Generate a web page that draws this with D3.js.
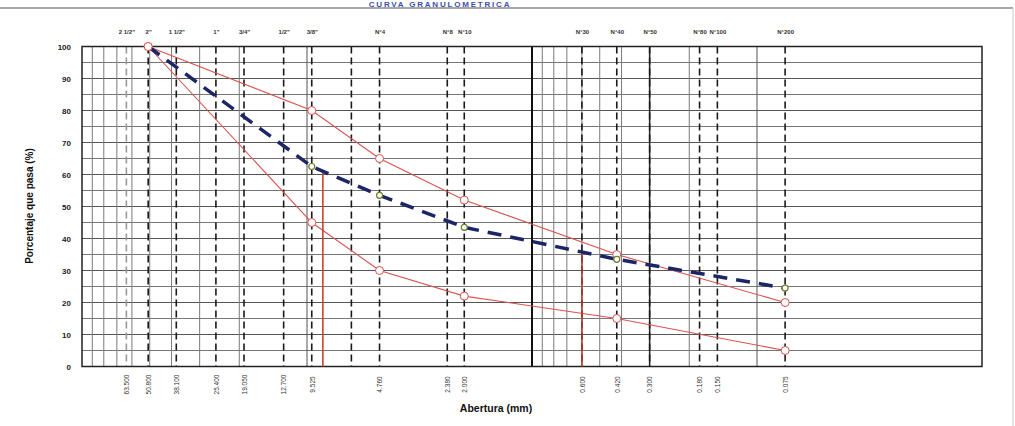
<!DOCTYPE html>
<html>
<head>
<meta charset="utf-8">
<script src="https://cdn.jsdelivr.net/npm/d3@7"></script>
<style>
  html, body { margin: 0; padding: 0; background: #fff; }
  svg { display: block; font-family: "Liberation Sans", Arial, sans-serif; }
</style>
</head>
<body>
<svg id="chart" width="1015" height="426"></svg>
<script>
// Sieve openings (mm) with their designations
const sieveSizes   = [63.5, 50.8, 38.1, 25.4, 19.05, 12.7, 9.525, 6.35, 4.76, 2.38, 2.0, 0.6, 0.42, 0.3, 0.18, 0.15, 0.075];
const sieveNames   = ['2 1/2"', '2"', '1 1/2"', '1"', '3/4"', '1/2"', '3/8"', '', 'N°4', 'N°8', 'N°10', 'N°30', 'N°40', 'N°50', 'N°80', 'N°100', 'N°200'];
const sieveLabels  = ['63.500', '50.800', '38.100', '25.400', '19.050', '12.700', '9.525', '', '4.760', '2.380', '2.000', '0.600', '0.420', '0.300', '0.180', '0.150', '0.075'];

// Gradation: specification band and sample curve (% passing)
const gradSieves   = [50.8, 9.525, 4.76, 2.0, 0.42, 0.075];
const upperLimit   = [100, 80, 65, 52, 35, 20];
const lowerLimit   = [100, 45, 30, 22, 15, 5];
const sampleCurve  = [100, 62.5, 53.5, 43.5, 33.5, 24.5];

// Characteristic diameters marked on the sample curve (mm)
const markedDiameters = [8.5, 0.6];

// Grid values
const decadeLines  = [10, 1, 0.1];
const minorLines   = [90, 80, 70, 60, 50, 40, 30, 20, 0.9, 0.8, 0.7, 0.6, 0.5, 0.4, 0.3, 0.2];
const yTicks       = [0, 10, 20, 30, 40, 50, 60, 70, 80, 90, 100];
const yGrid        = d3.range(0, 101, 5);

const svg = d3.select('#chart');
const L = 82, R = 982, T = 46.5, B = 366.5;

const x = d3.scaleLog().domain([100, 0.01]).range([L, R]);
const y = d3.scaleLinear().domain([0, 100]).range([B, T]);

// Outer frame and title
svg.append('line').attr('x1', 0).attr('x2', 1013).attr('y1', 8).attr('y2', 8)
  .attr('stroke', '#8a8a8a').attr('stroke-width', 1.5);
svg.append('line').attr('x1', 1013).attr('x2', 1013).attr('y1', 8).attr('y2', 426)
  .attr('stroke', '#c8c8c8').attr('stroke-width', 1);
svg.append('text').attr('x', 440).attr('y', 6.5).attr('text-anchor', 'middle')
  .attr('font-size', 8).attr('font-weight', 'bold').attr('fill', '#3d4fa8')
  .attr('letter-spacing', 1.8).text('CURVA GRANULOMETRICA');

const grid = svg.append('g');

// Horizontal grid every 5 %
grid.selectAll('line.h').data(yGrid).join('line')
  .attr('x1', L).attr('x2', R).attr('y1', d => y(d)).attr('y2', d => y(d))
  .attr('stroke', d => d % 10 === 0 ? '#555' : '#777').attr('stroke-width', 1);

// Minor log gridlines
grid.selectAll('line.m').data(minorLines).join('line')
  .attr('x1', d => x(d)).attr('x2', d => x(d)).attr('y1', T).attr('y2', B)
  .attr('stroke', d => d === 0.3 ? '#222' : '#7a7a7a').attr('stroke-width', d => d === 0.3 ? 1.5 : 1);

// Decade gridlines
grid.selectAll('line.d').data(decadeLines).join('line')
  .attr('x1', d => x(d)).attr('x2', d => x(d)).attr('y1', T).attr('y2', B)
  .attr('stroke', d => d === 1 ? '#111' : '#555').attr('stroke-width', d => d === 1 ? 2 : 1);

// Sieve lines (dashed)
grid.selectAll('line.s').data(sieveSizes).join('line')
  .attr('x1', d => x(d)).attr('x2', d => x(d)).attr('y1', T).attr('y2', B)
  .attr('stroke', d => d === 63.5 ? '#999' : '#1a1a1a')
  .attr('stroke-width', 1.6).attr('stroke-dasharray', '7,4');

// Plot border
svg.append('rect').attr('x', L).attr('y', T).attr('width', R - L).attr('height', B - T)
  .attr('fill', 'none').attr('stroke', '#222').attr('stroke-width', 1.5);

// Y axis
const yAxis = svg.append('g').attr('transform', `translate(${L},0)`)
  .call(d3.axisLeft(y).tickValues(yTicks).tickSize(0).tickPadding(11));
yAxis.select('.domain').remove();
yAxis.selectAll('text').attr('font-size', 8).attr('font-weight', 'bold').attr('fill', '#222')
  .attr('font-family', '"Liberation Sans", Arial, sans-serif');

// Top sieve designations
const topAxis = svg.append('g').attr('transform', `translate(0,${T})`)
  .call(d3.axisTop(x).tickValues(sieveSizes).tickSize(0).tickPadding(13)
    .tickFormat((d, i) => sieveNames[i]));
topAxis.select('.domain').remove();
topAxis.selectAll('text').attr('font-size', 6).attr('font-weight', 'bold').attr('fill', '#333')
  .attr('font-family', '"Liberation Sans", Arial, sans-serif');

// Bottom opening labels (rotated)
const botAxis = svg.append('g').attr('transform', `translate(0,${B})`)
  .call(d3.axisBottom(x).tickValues(sieveSizes).tickSize(0).tickFormat((d, i) => sieveLabels[i]));
botAxis.select('.domain').remove();
botAxis.selectAll('text')
  .attr('transform', 'rotate(-90)')
  .attr('x', -18).attr('y', 0).attr('dy', '0.35em')
  .attr('text-anchor', 'middle')
  .attr('font-size', 6.5).attr('fill', '#333')
  .attr('font-family', '"Liberation Sans", Arial, sans-serif');

// Axis titles
svg.append('text').attr('x', 496).attr('y', 412).attr('text-anchor', 'middle')
  .attr('font-size', 10.5).attr('font-weight', 'bold').attr('fill', '#111').text('Abertura (mm)');
svg.append('text').attr('transform', 'translate(33,206) rotate(-90)').attr('text-anchor', 'middle')
  .attr('font-size', 10).attr('font-weight', 'bold').attr('fill', '#111').text('Porcentaje que pasa (%)');

const line = d3.line().x(d => x(d[0])).y(d => y(d[1]));
const pts = vals => gradSieves.map((s, i) => [s, vals[i]]);

// Interpolate sample curve in log space
function sampleAt(dmm) {
  for (let i = 0; i < gradSieves.length - 1; i++) {
    const a = gradSieves[i], b = gradSieves[i + 1];
    if (dmm <= a && dmm >= b) {
      const t = (Math.log10(a) - Math.log10(dmm)) / (Math.log10(a) - Math.log10(b));
      return sampleCurve[i] + t * (sampleCurve[i + 1] - sampleCurve[i]);
    }
  }
  return 0;
}

// Specification limits
[upperLimit, lowerLimit].forEach(vals => {
  svg.append('path').datum(pts(vals)).attr('d', line)
    .attr('fill', 'none').attr('stroke', '#d9534f').attr('stroke-width', 1.1);
});

// Marked diameters drop lines
svg.selectAll('line.drop').data(markedDiameters).join('line')
  .attr('x1', d => x(d)).attr('x2', d => x(d))
  .attr('y1', d => y(sampleAt(d))).attr('y2', B)
  .attr('stroke', '#c0392b').attr('stroke-width', 1.5);

// Sample curve
svg.append('path').datum(pts(sampleCurve)).attr('d', line)
  .attr('fill', 'none').attr('stroke', '#1c2566').attr('stroke-width', 3.5)
  .attr('stroke-dasharray', '14,9');

// Markers
[upperLimit, lowerLimit].forEach(vals => {
  svg.append('g').selectAll('circle').data(pts(vals)).join('circle')
    .attr('cx', d => x(d[0])).attr('cy', d => y(d[1])).attr('r', 4)
    .attr('fill', '#fff').attr('stroke', '#d9534f').attr('stroke-width', 1);
});
svg.append('g').selectAll('circle').data(pts(sampleCurve).slice(1)).join('circle')
  .attr('cx', d => x(d[0])).attr('cy', d => y(d[1])).attr('r', 3)
  .attr('fill', '#fff').attr('stroke', '#6b7d2a').attr('stroke-width', 1.2);
</script>
</body>
</html>
